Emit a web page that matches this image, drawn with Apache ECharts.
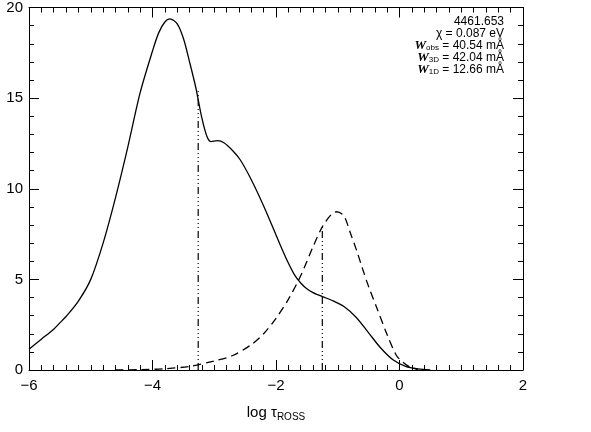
<!DOCTYPE html>
<html><head><meta charset="utf-8">
<script src="https://cdn.jsdelivr.net/npm/echarts@6/dist/echarts.min.js"></script>
<style>html,body{margin:0;padding:0;background:#fff}#c{width:591px;height:432px}</style>
</head><body><div id="c"></div>
<script>
var solidX = [-6.0,-5.8,-5.6,-5.5,-5.4,-5.2,-5.0,-4.8,-4.6,-4.4,-4.2,-4.0,-3.9,-3.8,-3.72,-3.6,-3.5,-3.4,-3.3,-3.2,-3.12,-3.05,-2.95,-2.85,-2.7,-2.58,-2.4,-2.2,-2.0,-1.9,-1.8,-1.7,-1.6,-1.5,-1.4,-1.25,-1.1,-0.9,-0.7,-0.5,-0.3,-0.1,0.1,0.3,0.5];
var solidY = [1.15,1.7,2.25,2.6,2.95,3.8,5.0,7.0,9.5,12.3,15.3,17.6,18.6,19.2,19.37,19.1,18.3,17.0,15.6,13.9,12.9,12.6,12.65,12.55,12.1,11.6,10.5,9.05,7.45,6.65,5.9,5.25,4.8,4.48,4.27,4.05,3.85,3.5,2.9,2.05,1.2,0.55,0.2,0.06,0.0];
var dashX = [-4.6,-4.2,-3.8,-3.4,-3.0,-2.7,-2.4,-2.2,-2.0,-1.8,-1.6,-1.4,-1.25,-1.1,-1.02,-0.9,-0.8,-0.69,-0.6,-0.5,-0.37,-0.2,-0.05,0.05,0.15,0.3];
var dashY = [0.0,0.02,0.07,0.2,0.5,0.8,1.4,2.0,2.85,3.9,5.2,6.8,7.9,8.6,8.73,8.5,7.6,6.55,5.6,4.6,3.45,1.95,0.8,0.45,0.2,0.02];
var markA = [[-3.26,0],[-3.26,15.4]];
var markB = [[-1.25,0],[-1.25,8.0]];
var xTicks = [-6,-4,-2,0,2];
var yTicks = [0,5,10,15,20];
var annot = ['4461.653','0.087 eV','40.54 mÅ','42.04 mÅ','12.66 mÅ'];

function pairs(xs, ys){ return xs.map(function(x,i){return [x, ys[i]];}); }
var FONT = 'Liberation Sans';
var dashDot = [7,3,1,3,1,3,1,3];
var chart = echarts.init(document.getElementById('c'));
function xa(pos, show){
  return {type:'value', position:pos, min:xTicks[0], max:xTicks[xTicks.length-1], interval:2,
    axisLine:{show:true,onZero:false,lineStyle:{color:'#000',width:1}},
    axisTick:{show:true,inside:true,length:10,lineStyle:{color:'#000'}},
    minorTick:{show:true,splitNumber:10,length:5,lineStyle:{color:'#000'}},
    splitLine:{show:false},
    axisLabel:{show:show,color:'#000',fontFamily:FONT,fontSize:15,margin:8,
      formatter:function(v){return String(v).replace('-','\u2212');}},
    name: show ? 'log \u03c4{s|ROSS}' : '', nameLocation:'middle', nameGap:34,
    nameTextStyle:{color:'#000',fontFamily:FONT,fontSize:15,rich:{s:{fontSize:10,fontFamily:FONT,color:'#000',verticalAlign:'bottom',padding:[8,0,0,0]}}}
  };
}
function ya(pos, show){
  return {type:'value', position:pos, min:yTicks[0], max:yTicks[yTicks.length-1], interval:5,
    axisLine:{show:true,onZero:false,lineStyle:{color:'#000',width:1}},
    axisTick:{show:true,inside:true,length:10,lineStyle:{color:'#000'}},
    minorTick:{show:true,splitNumber:5,length:5,lineStyle:{color:'#000'}},
    splitLine:{show:false},
    axisLabel:{show:show,color:'#000',fontFamily:FONT,fontSize:15,margin:6}
  };
}
var richW = {w:{fontFamily:'Liberation Serif',fontStyle:'italic',fontWeight:'bold',fontSize:13,fill:'#000'},
             s:{fontFamily:FONT,fontSize:8,fill:'#000',padding:[4,0,0,0]},
             n:{fontFamily:FONT,fontSize:12,fill:'#000'}};
chart.setOption({
  animation:false,
  grid:{left:29,top:3,right:68,bottom:62,containLabel:false},
  xAxis:[xa('bottom',true), xa('top',false)],
  yAxis:[ya('left',true), ya('right',false)],
  series:[
    {type:'line',data:pairs(solidX,solidY),smooth:0.3,showSymbol:false,lineStyle:{color:'#000',width:1.3,type:'solid'},z:3},
    {type:'line',data:pairs(dashX,dashY),smooth:0.3,showSymbol:false,lineStyle:{color:'#000',width:1.3,type:[8,5]},z:3},
    {type:'line',data:markA,showSymbol:false,lineStyle:{color:'#000',width:1.2,type:dashDot}},
    {type:'line',data:markB,showSymbol:false,lineStyle:{color:'#000',width:1.2,type:dashDot}}
  ],
  graphic:[
    {type:'text',right:87,top:16,style:{text:annot[0],fontFamily:FONT,fontSize:12,fill:'#000',align:'right'}},
    {type:'text',right:87,top:28,style:{text:'\u03c7 = '+annot[1],fontFamily:FONT,fontSize:12,fill:'#000',align:'right'}},
    {type:'text',right:87,top:39,style:{text:'{w|W}{s|obs}{n| = '+annot[2]+'}',align:'right',rich:richW}},
    {type:'text',right:87,top:51,style:{text:'{w|W}{s|3D}{n| = '+annot[3]+'}',align:'right',rich:richW}},
    {type:'text',right:87,top:63,style:{text:'{w|W}{s|1D}{n| = '+annot[4]+'}',align:'right',rich:richW}}
  ]
});
</script></body></html>
